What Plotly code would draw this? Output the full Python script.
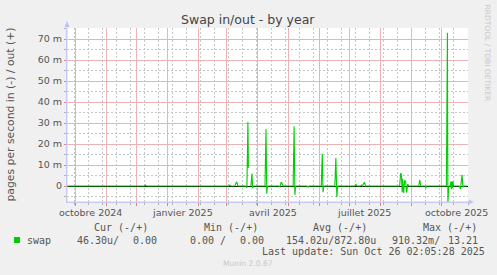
import plotly.graph_objects as go

# ---------------- data ----------------
dates = [
    "2024-09-23",
    "2024-12-09", "2024-12-10", "2024-12-11",
    "2025-03-03", "2025-03-04", "2025-03-05",
    "2025-03-09", "2025-03-10", "2025-03-11", "2025-03-12",
    "2025-03-20", "2025-03-21", "2025-03-22", "2025-03-22T12:00", "2025-03-23", "2025-03-24",
    "2025-03-25", "2025-03-26", "2025-03-26T18:00", "2025-03-27T12:00",
    "2025-04-08", "2025-04-09", "2025-04-09T18:00", "2025-04-10T12:00",
    "2025-04-22", "2025-04-23", "2025-04-24", "2025-04-25", "2025-04-26",
    "2025-05-06", "2025-05-07", "2025-05-07T18:00", "2025-05-08T12:00",
    "2025-05-20", "2025-05-21", "2025-05-22",
    "2025-06-03", "2025-06-04", "2025-06-04T18:00", "2025-06-05T12:00",
    "2025-06-16T12:00", "2025-06-17T12:00", "2025-06-18T12:00", "2025-06-19T06:00",
    "2025-07-06", "2025-07-07T12:00", "2025-07-08T12:00", "2025-07-12", "2025-07-13", "2025-07-14",
    "2025-07-15", "2025-07-16", "2025-07-17",
    "2025-08-20", "2025-08-21", "2025-08-21T18:00", "2025-08-22T12:00", "2025-08-23", "2025-08-24",
    "2025-08-25", "2025-08-26", "2025-08-27", "2025-08-28", "2025-08-29",
    "2025-09-08", "2025-09-09", "2025-09-10",
    "2025-09-14T12:00", "2025-09-15", "2025-09-15T12:00",
    "2025-10-05T12:00", "2025-10-06T12:00", "2025-10-07", "2025-10-07T18:00",
    "2025-10-09T12:00", "2025-10-10", "2025-10-10T12:00", "2025-10-11", "2025-10-11T12:00",
    "2025-10-12", "2025-10-12T18:00",
    "2025-10-18T12:00", "2025-10-19T12:00", "2025-10-21", "2025-10-22", "2025-10-23", "2025-10-26",
]
swap_milli = [
    0,
    0, 0.5, 0,
    0, 0.5, 0,
    0, 1.2, 2.0, 0,
    0, -0.8, 30.5, 8.7, None, 0,
    0, 6.0, -1.0, 0,
    0, 27.0, -3.7, 0,
    0, -0.5, 1.9, 1.2, 0,
    0, 28.5, -4.2, 0,
    0, -0.5, 0,
    0, 15.4, -2.9, 0,
    0, 13.3, -5.2, 0,
    0, 0.8, 0, 0, 0.5, 0,
    1.2, 1.9, 0,
    0, 6.2, 5.0, -3.0, 3.5, -3.3,
    2.8, 2.0, -3.2, 1.0, 0,
    0, 3.0, 0,
    0, -1.0, 0,
    0, 73.0, -8.5, 0,
    0, 2.2, -1.5, 2.2, -1.0,
    2.2, 0,
    0, -1.5, 5.4, -0.5, 0, 0,
]

x_range = ["2024-09-23", "2025-10-27"]
y_range = [-7.6, 75.3]
y_tick_vals = [0, 10, 20, 30, 40, 50, 60, 70]
y_tick_text = ["0", "10 m", "20 m", "30 m", "40 m", "50 m", "60 m", "70 m"]
y_minor_vals = [-5, 5, 15, 25, 35, 45, 55, 65, 75]
x_label_dates = ["2024-10-16", "2025-01-16", "2025-04-16", "2025-07-16", "2025-10-16"]
x_label_text = ["octobre 2024", "janvier 2025", "avril 2025", "juillet 2025", "octobre 2025"]

legend_header = ["Cur (-/+)", "Min (-/+)", "Avg (-/+)", "Max (-/+)"]
legend_values = ["46.30u/", "0.00", "0.00 /", "0.00", "154.02u/872.80u", "910.32m/", "13.21"]
last_update = "Last update: Sun Oct 26 02:05:28 2025"

# ---------------- layout helpers ----------------
W, H = 497, 275
L, R, T, B = 67, 468, 28, 202


def px_x(px):
    return (px - L) / (R - L)


def px_y(py):
    return (B - py) / (B - T)


GREEN = "#00CC00"
MAJOR = "#eab4b4"
MINOR = "#c6c6c6"
AXIS = "#c8c8f4"
TXT = "#555555"

fig = go.Figure()
# anchor trace on the base axes (they carry the grey grid)
fig.add_trace(go.Scatter(x=x_range, y=[0, 0], mode="lines", line=dict(width=0),
                         showlegend=False, hoverinfo="skip", xaxis="x", yaxis="y"))
# data on overlay axes (they carry the red grid), drawn above both grids
fig.add_trace(go.Scatter(x=dates, y=swap_milli, mode="lines",
                         line=dict(color=GREEN, width=1.1), connectgaps=False,
                         name="swap", showlegend=False, hoverinfo="skip",
                         xaxis="x2", yaxis="y2"))

fig.update_layout(
    width=W, height=H, autosize=False,
    margin=dict(l=L, r=W - R, t=T, b=H - B, pad=0),
    paper_bgcolor="#F0F0F0", plot_bgcolor="#FFFFFF",
    showlegend=False,
    font=dict(family="DejaVu Sans", size=9.5, color=TXT),
    xaxis=dict(
        type="date", range=x_range, showticklabels=False,
        tickmode="linear", tick0="2024-09-30", dtick=14 * 86400000,
        showgrid=True, gridcolor=MINOR, gridwidth=1, griddash="2px,2px",
        ticks="outside", ticklen=2, tickcolor="#b0b0b0",
        showline=True, linecolor=AXIS, linewidth=1, zeroline=False,
    ),
    yaxis=dict(
        range=y_range, tickmode="array", tickvals=y_minor_vals,
        showticklabels=False,
        showgrid=True, gridcolor=MINOR, gridwidth=1, griddash="2px,2px",
        ticks="outside", ticklen=2, tickcolor="#b0b0b0",
        showline=True, linecolor=AXIS, linewidth=1, zeroline=False,
    ),
    xaxis2=dict(
        type="date", range=x_range, overlaying="x", anchor="y2", side="bottom",
        showticklabels=False,
        tickmode="linear", tick0="2024-10-01", dtick="M1",
        showgrid=True, gridcolor=MAJOR, gridwidth=1,
        ticks="outside", ticklen=3, tickcolor="#e08080",
        showline=False, zeroline=False,
    ),
    yaxis2=dict(
        range=y_range, overlaying="y", anchor="x2", side="left",
        tickmode="array", tickvals=y_tick_vals, ticktext=y_tick_text,
        showgrid=True, gridcolor=MAJOR, gridwidth=1,
        ticks="outside", ticklen=2, tickcolor="#e08080",
        tickfont=dict(family="DejaVu Sans", size=9.5, color=TXT),
        showline=False,
        zeroline=True, zerolinecolor="#000000", zerolinewidth=1.2,
    ),
)

ann = []
ann.append(dict(text="Swap in/out - by year", x=px_x(248), y=px_y(19),
                xref="paper", yref="paper", xanchor="center", yanchor="middle",
                showarrow=False, font=dict(family="DejaVu Sans", size=12.5, color="#444")))
ann.append(dict(text="pages per second in (-) / out (+)", x=px_x(10), y=px_y(114.5),
                xref="paper", yref="paper", xanchor="center", yanchor="middle",
                textangle=-90, showarrow=False,
                font=dict(family="DejaVu Sans", size=10.8, color=TXT)))
ann.append(dict(text="RRDTOOL / TOBI OETIKER", x=px_x(487.5), y=px_y(53),
                xref="paper", yref="paper", xanchor="center", yanchor="middle",
                textangle=90, showarrow=False,
                font=dict(family="DejaVu Sans", size=7.5, color="#c8c8c8")))
for d, t in zip(x_label_dates, x_label_text):
    ann.append(dict(text=t, x=d, y=px_y(212.7), xref="x", yref="paper",
                    xanchor="center", yanchor="middle", showarrow=False,
                    font=dict(family="DejaVu Sans", size=9.5, color=TXT)))

mono = dict(family="DejaVu Sans Mono", size=10, color=TXT)


def left_text(t, px, py, font=mono):
    return dict(text=t, x=px_x(px), y=px_y(py), xref="paper", yref="paper",
                xanchor="left", yanchor="middle", showarrow=False, font=font,
                borderpad=0)


for t, px in zip(legend_header, [94.3, 204, 312.7, 422.7]):
    ann.append(left_text(t.replace(" ", "&nbsp;"), px - 1, 227.3))
ann.append(left_text("swap", 26.7 - 1, 240))
for t, px in zip(legend_values, [77.3, 133.3, 190, 239.5, 285.7, 392.3, 448.3]):
    ann.append(left_text(t.replace(" ", "&nbsp;"), px - 1, 240))
ann.append(left_text(last_update.replace(" ", "&nbsp;"), 261.7 - 1, 251.7))
ann.append(left_text("Munin 2.0.67", 222.7 - 1, 263.3,
                     font=dict(family="DejaVu Sans", size=7.6, color="#c8c8c8")))
fig.update_layout(annotations=ann)


def path(points):
    return "M " + " L ".join(f"{px_x(a)},{px_y(b)}" for a, b in points) + " Z"


shapes = [
    dict(type="rect", xref="paper", yref="paper", x0=px_x(14), x1=px_x(20),
         y0=px_y(243), y1=px_y(237), fillcolor=GREEN, line=dict(width=0)),
    dict(type="line", xref="paper", yref="paper", x0=px_x(67), x1=px_x(67),
         y0=px_y(202), y1=px_y(24), line=dict(color=AXIS, width=1)),
    dict(type="path", xref="paper", yref="paper",
         path=path([(64.5, 27), (69.5, 27), (67, 21)]),
         fillcolor="#b8c4f8", line=dict(width=0)),
    dict(type="line", xref="paper", yref="paper", x0=px_x(67), x1=px_x(470),
         y0=px_y(202), y1=px_y(202), line=dict(color=AXIS, width=1)),
    dict(type="path", xref="paper", yref="paper",
         path=path([(468.5, 199.5), (468.5, 204.5), (474, 202)]),
         fillcolor="#b8c4f8", line=dict(width=0)),
]
fig.update_layout(shapes=shapes)

fig.write_html("out.html")
